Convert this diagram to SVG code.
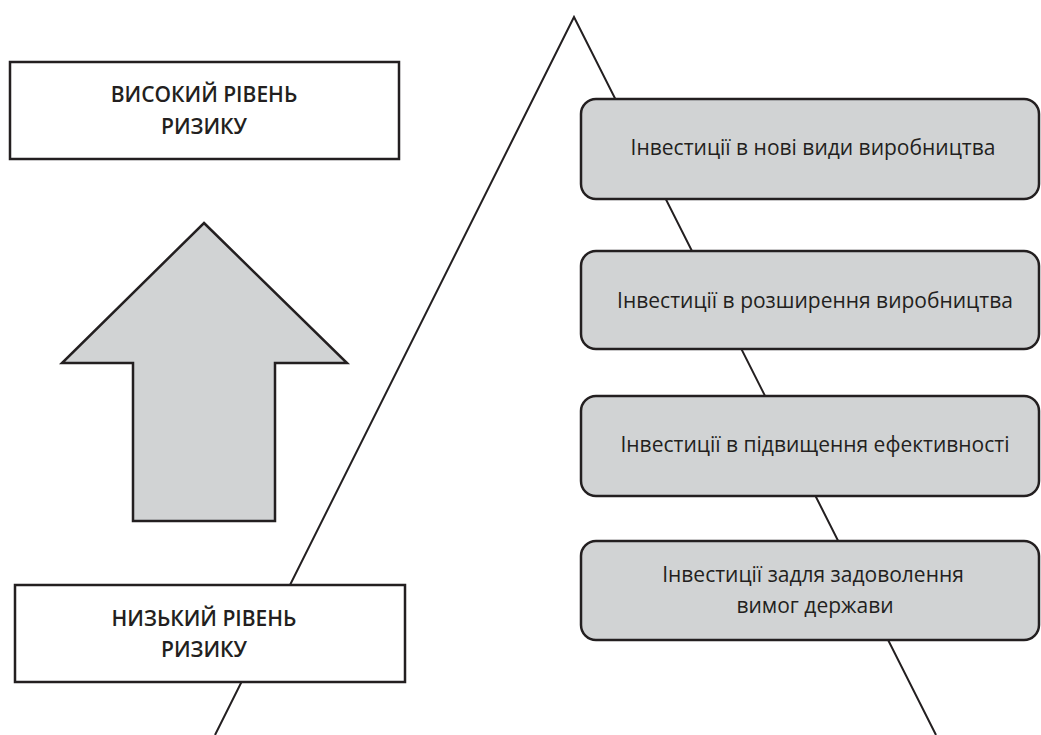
<svg xmlns="http://www.w3.org/2000/svg" width="1041" height="735" viewBox="0 0 1041 735">
<style>
.ln{fill:none;stroke:#231f20;stroke-width:2}
.wbox{fill:#ffffff;stroke:#231f20;stroke-width:2.5}
.gbox{fill:#d1d3d4;stroke:#231f20;stroke-width:2.5}
.bt{font-family:"Open Sans","Noto Sans",sans-serif;font-weight:600;font-size:21px;fill:#231f20;text-anchor:middle}
.nt{font-family:"Open Sans","Noto Sans",sans-serif;font-size:21px;fill:#231f20;text-anchor:middle}
</style>
<rect width="1041" height="735" fill="#ffffff"/>
<g id="connectors">
<polyline class="ln" points="215,735 574,17 936,735"/>
</g>
<g id="high-risk">
<rect class="wbox" x="10" y="62" width="389" height="97"/>
<text class="bt" x="204" y="102">ВИСОКИЙ РІВЕНЬ</text>
<text class="bt" x="204" y="134">РИЗИКУ</text>
</g>
<g id="arrow">
<polygon class="gbox" stroke-width="2" points="204,223 347,363 275,363 275,521 133,521 133,363 62,363"/>
</g>
<g id="low-risk">
<rect class="wbox" x="15" y="585" width="390" height="97"/>
<text class="bt" x="204" y="626">НИЗЬКИЙ РІВЕНЬ</text>
<text class="bt" x="204" y="657">РИЗИКУ</text>
</g>
<g id="inv-new">
<rect class="gbox" x="581" y="99" width="458" height="100" rx="15"/>
<text class="nt" x="813" y="155">Інвестиції в нові види виробництва</text>
</g>
<g id="inv-expand">
<rect class="gbox" x="581" y="251" width="458" height="98" rx="15"/>
<text class="nt" x="815" y="308">Інвестиції в розширення виробництва</text>
</g>
<g id="inv-efficiency">
<rect class="gbox" x="581" y="396" width="458" height="100" rx="15"/>
<text class="nt" x="815" y="452">Інвестиції в підвищення ефективності</text>
</g>
<g id="inv-state">
<rect class="gbox" x="581" y="541" width="458" height="99" rx="15"/>
<text class="nt" x="813" y="582">Інвестиції задля задоволення</text>
<text class="nt" x="815" y="613">вимог держави</text>
</g>
</svg>
